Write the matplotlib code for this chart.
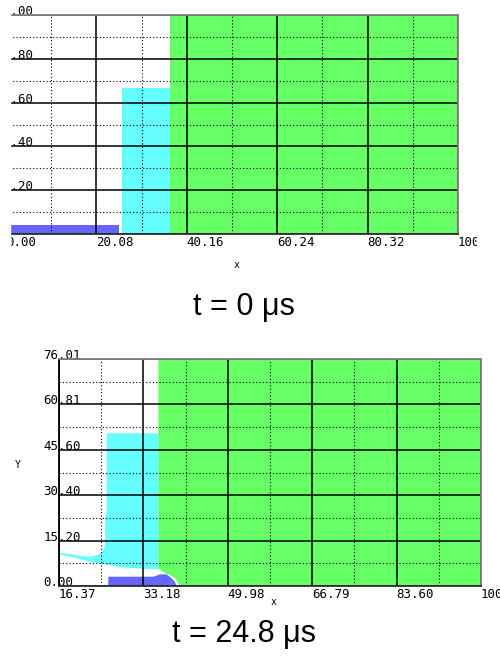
import numpy as np
import matplotlib
matplotlib.use("Agg")
import matplotlib.pyplot as plt
from matplotlib.patches import Rectangle
from matplotlib.ticker import FixedLocator

# ---- top frame (t = 0 us) ----
top_xticks = [0.0, 20.08, 40.16, 60.24, 80.32, 100.40]
top_xlabels = ["0.00", "20.08", "40.16", "60.24", "80.32", "100.40"]
top_yticks = [0.0, 0.2, 0.4, 0.6, 0.8, 1.0]
top_ylabels = ["", "0.20", "0.40", "0.60", "0.80", "1.00"]
top_left = [0.0, 25.8, 36.4]       # blue, cyan, green slabs
top_right = [25.1, 36.4, 100.4]
top_height = [0.04, 0.667, 1.0]

# ---- bottom frame (t = 24.8 us) ----
bot_xticks = [16.37, 33.18, 49.98, 66.79, 83.60, 100.40]
bot_xlabels = ["16.37", "33.18", "49.98", "66.79", "83.60", "100.40"]
bot_yticks = [0.0, 15.20, 30.40, 45.60, 60.81, 76.01]
bot_ylabels = ["0.00", "15.20", "30.40", "45.60", "60.81", "76.01"]

cyan_x = [25.87, 36.14, 36.14, 35.15, 33.16, 30.51, 27.86, 25.19, 23.20, 21.21,
          18.56, 16.57, 16.37, 16.37, 18.56, 20.55, 22.54, 23.88, 24.87, 25.33,
          25.53, 25.59, 25.87]
cyan_y = [51.13, 51.13, 5.69, 5.59, 5.79, 6.03, 6.46, 7.30, 7.97, 8.71,
          9.81, 10.48, 10.48, 11.15, 10.71, 10.05, 9.81, 10.28, 11.15, 12.62,
          14.30, 23.44, 23.77]
green_x = [36.14, 100.4, 100.4, 40.46, 40.13, 39.47, 38.47, 37.48, 36.14]
green_y = [76.01, 76.01, 0.0, 0.0, 0.90, 2.58, 3.68, 4.25, 5.93]
blue_x = [26.19, 26.19, 35.15, 36.5, 37.8, 38.6, 39.4, 39.81]
blue_y = [0.0, 3.11, 3.11, 3.9, 3.9, 2.9, 1.5, 0.0]

BLUE, CYAN, GREEN = "#6666ff", "#66ffff", "#66ff66"
MONO = "DejaVu Sans Mono"
W, H = 500, 658

fig = plt.figure(figsize=(W / 100, H / 100), dpi=100)


def px_axes(x0, y0, x1, y1):
    return fig.add_axes([x0 / W, 1 - y1 / H, (x1 - x0) / W, (y1 - y0) / H])


def style(ax, xt, xl, yt, yl, ypad):
    ax.set_xticks(xt)
    ax.set_xticklabels(xl, fontsize=9, family=MONO)
    ax.set_yticks(yt)
    ax.set_yticklabels(yl, fontsize=9, family=MONO)
    ax.xaxis.set_minor_locator(FixedLocator(np.convolve(xt, [0.5, 0.5], "valid")))
    ax.yaxis.set_minor_locator(FixedLocator(np.convolve(yt, [0.5, 0.5], "valid")))
    ax.tick_params(which="both", length=0)
    ax.tick_params(axis="x", pad=1.5)
    ax.tick_params(axis="y", pad=ypad)
    for t in ax.get_xticklabels():
        t.set_ha("left")
    for t in ax.get_yticklabels():
        t.set_ha("left")
        t.set_va("baseline")
    ax.grid(which="major", color="black", lw=1.1)
    ax.grid(which="minor", color="black", lw=0.8, ls=(0, (1, 2)))
    ax.spines["top"].set_color("#808080")
    ax.spines["right"].set_color("#808080")
    ax.spines["bottom"].set_color("#303030")
    ax.spines["left"].set_color("black")
    for s in ax.spines.values():
        s.set_linewidth(1.3)


# top frame
ax1 = px_axes(6, 15, 458, 234)
ax1.bar(top_left, top_height, width=np.subtract(top_right, top_left), align="edge",
        color=[BLUE, CYAN, GREEN], lw=0)
ax1.set_xlim(0, 100.4)
ax1.set_ylim(0, 1.0)
style(ax1, top_xticks, top_xlabels, top_yticks, top_ylabels, 1.8)
fig.text(237 / W, 1 - 265 / H, "x", family=MONO, fontsize=7, ha="center", va="center")

# the top frame is a cropped screenshot: blank out its left and right margins
fig.add_artist(Rectangle((0, 1 - 270 / H), 10 / W, 270 / H, transform=fig.transFigure,
                         color="white", zorder=10))
fig.add_artist(Rectangle((477 / W, 1 - 270 / H), 23 / W, 270 / H, transform=fig.transFigure,
                         color="white", zorder=10))

# bottom frame
ax2 = px_axes(59, 359, 481, 586)
ax2.fill(green_x, green_y, color=GREEN, lw=0)
ax2.fill(cyan_x, cyan_y, color=CYAN, lw=0)
ax2.fill(blue_x, blue_y, color=BLUE, lw=0)
ax2.set_xlim(16.37, 100.4)
ax2.set_ylim(0, 76.01)
style(ax2, bot_xticks, bot_xlabels, bot_yticks, bot_ylabels, 11.5)
fig.text(274 / W, 1 - 602 / H, "x", family=MONO, fontsize=7, ha="center", va="center")
fig.text(18 / W, 1 - 465 / H, "Y", family=MONO, fontsize=7, ha="center", va="center")

# captions
fig.text(244 / W, 1 - 315 / H, "t = 0 μs", family="Liberation Sans", fontsize=22,
         ha="center", va="baseline")
fig.text(244 / W, 1 - 641.7 / H, "t = 24.8 μs", family="Liberation Sans", fontsize=22,
         ha="center", va="baseline")

fig.savefig("out.png", dpi=100)
